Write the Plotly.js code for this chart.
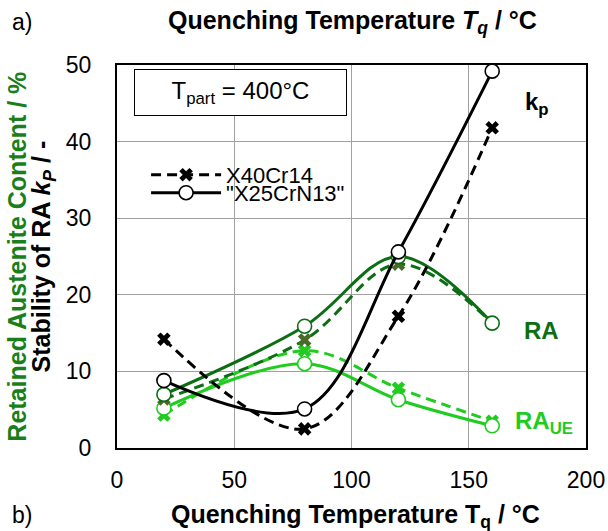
<!DOCTYPE html>
<html>
<head>
<meta charset="utf-8">
<script src="https://cdn.plot.ly/plotly-3.0.1.min.js"></script>
<style>html,body{margin:0;padding:0;background:#fff;}#chart{width:608px;height:531px;}</style>
</head>
<body>
<div id="chart"></div>
<script>
// Quenching temperatures (°C)
const temps = [20, 80, 120, 160];
// Stability of RA k_p
const kp_X40 = [14.2, 2.5, 17.2, 41.8];
const kp_X25 = [8.8, 5.1, 25.6, 49.2];
// Retained austenite content RA (%)
const ra_X40 = [6.4, 14.1, 24.0, 16.3];
const ra_X25 = [7.0, 15.9, 25.0, 16.3];
// Retained austenite content RA_UE (%)
const raue_X40 = [4.3, 12.7, 7.8, 3.5];
const raue_X25 = [5.2, 11.0, 6.3, 2.9];
const seriesNames = ['X40Cr14', '"X25CrN13"'];
const xTicks = [0, 50, 100, 150, 200];
const yTicks = [0, 10, 20, 30, 40, 50];

const DG = '#0b6e12', LG = '#1fcc1f', OL = '#4a6a2a', BK = '#000000';
const DASH = '10px,6px';

function xTrace(y, color, mcolor, show, name, leg) {
  return {x: temps, y: y, type: 'scatter', mode: 'lines+markers', name: name, showlegend: show,
    legend: leg || 'legend',
    line: {color: color, width: 3, dash: DASH, shape: 'spline', smoothing: 1},
    marker: {symbol: 'x', size: 12, color: mcolor, line: {width: 0}}};
}
function oTrace(y, color, show, name, leg) {
  return {x: temps, y: y, type: 'scatter', mode: 'lines+markers', name: name, showlegend: show,
    legend: leg || 'legend',
    line: {color: color, width: 3, shape: 'spline', smoothing: 1},
    marker: {symbol: 'circle', size: 14, color: '#ffffff', line: {color: color, width: 1.6}}};
}

const data = [
  xTrace(raue_X40, LG, LG, false, 'RAUE X40'),
  oTrace(raue_X25, LG, false, 'RAUE X25'),
  xTrace(ra_X40, DG, OL, false, 'RA X40'),
  oTrace(ra_X25, DG, false, 'RA X25'),
  xTrace(kp_X40, BK, BK, true, seriesNames[0], 'legend'),
  oTrace(kp_X25, BK, true, seriesNames[1], 'legend2')
];

const F = 'Liberation Sans, Arial, sans-serif';
const legBase = {xanchor: 'left', yanchor: 'middle', bgcolor: 'rgba(0,0,0,0)', itemwidth: 70,
  font: {family: F, size: 22, color: '#000'}, borderwidth: 0};
const layout = {
  width: 608, height: 531,
  margin: {l: 117, r: 22, t: 65, b: 83},
  paper_bgcolor: '#fff', plot_bgcolor: '#fff',
  font: {family: F, size: 24, color: '#000'},
  showlegend: true,
  legend: Object.assign({x: 0.062, y: 0.713}, legBase),
  legend2: Object.assign({x: 0.062, y: 0.666}, legBase),
  xaxis: {range: [0, 200], tickvals: xTicks, ticktext: xTicks.map(String), showgrid: true,
    gridcolor: '#a0a0a0', gridwidth: 1, zeroline: false, showline: true, mirror: true,
    linecolor: '#000', linewidth: 2, ticks: '', tickfont: {size: 23, family: F}, ticklabelstandoff: 10, fixedrange: true},
  yaxis: {range: [0, 50], tickvals: yTicks, ticktext: yTicks.map(String), showgrid: true,
    gridcolor: '#a0a0a0', gridwidth: 1, zeroline: false, showline: true, mirror: true,
    linecolor: '#000', linewidth: 2, ticks: '', tickfont: {size: 23, family: F}, ticklabelstandoff: 19, fixedrange: true},
  annotations: [
    {xref: 'paper', yref: 'paper', x: -0.228, y: 1.113, xanchor: 'left', yanchor: 'middle',
     text: 'a)', showarrow: false, font: {size: 23, family: F}},
    {xref: 'paper', yref: 'paper', x: 0.502, y: 1.113, xanchor: 'center', yanchor: 'middle',
     text: '<b>Quenching Temperature <i>T<sub>q</sub></i> / °C</b>', showarrow: false, font: {size: 25, family: F}},
    {xref: 'paper', yref: 'paper', x: -0.228, y: -0.175, xanchor: 'left', yanchor: 'middle',
     text: 'b)', showarrow: false, font: {size: 23, family: F}},
    {xref: 'paper', yref: 'paper', x: 0.508, y: -0.178, xanchor: 'center', yanchor: 'middle',
     text: '<b>Quenching Temperature T<sub>q</sub> / °C</b>', showarrow: false, font: {size: 25, family: F}},
    {xref: 'paper', yref: 'paper', x: -0.215, y: 0.5, xanchor: 'center', yanchor: 'middle', textangle: -90,
     text: '<b>Retained Austenite Content / %</b>', showarrow: false, font: {size: 25, family: F, color: '#1a7f1a'}},
    {xref: 'paper', yref: 'paper', x: -0.158, y: 0.5, xanchor: 'center', yanchor: 'middle', textangle: -90,
     text: '<b>Stability of RA <i>k<sub>P</sub></i> / -</b>', showarrow: false, font: {size: 25, family: F, color: '#000'}},
    {xref: 'paper', yref: 'paper', x: 0.036, y: 0.9895, xanchor: 'left', yanchor: 'top',
     text: 'T<sub>part</sub> = 400°C', showarrow: false, font: {size: 24, family: F},
     bordercolor: '#000', borderwidth: 1, borderpad: 0, width: 211, height: 45, bgcolor: '#fff'},
    {xref: 'x', yref: 'y', x: 173, y: 45.0, xanchor: 'left', yanchor: 'middle',
     text: '<b>k<sub>p</sub></b>', showarrow: false, font: {size: 24, family: F, color: '#000'}},
    {xref: 'x', yref: 'y', x: 172.5, y: 15.4, xanchor: 'left', yanchor: 'middle',
     text: '<b>RA</b>', showarrow: false, font: {size: 24, family: F, color: DG}},
    {xref: 'x', yref: 'y', x: 168.9, y: 3.3, xanchor: 'left', yanchor: 'middle',
     text: '<b>RA<sub>UE</sub></b>', showarrow: false, font: {size: 24, family: F, color: LG}}
  ]
};

Plotly.newPlot('chart', data, layout, {staticPlot: true, displayModeBar: false});
</script>
</body>
</html>
